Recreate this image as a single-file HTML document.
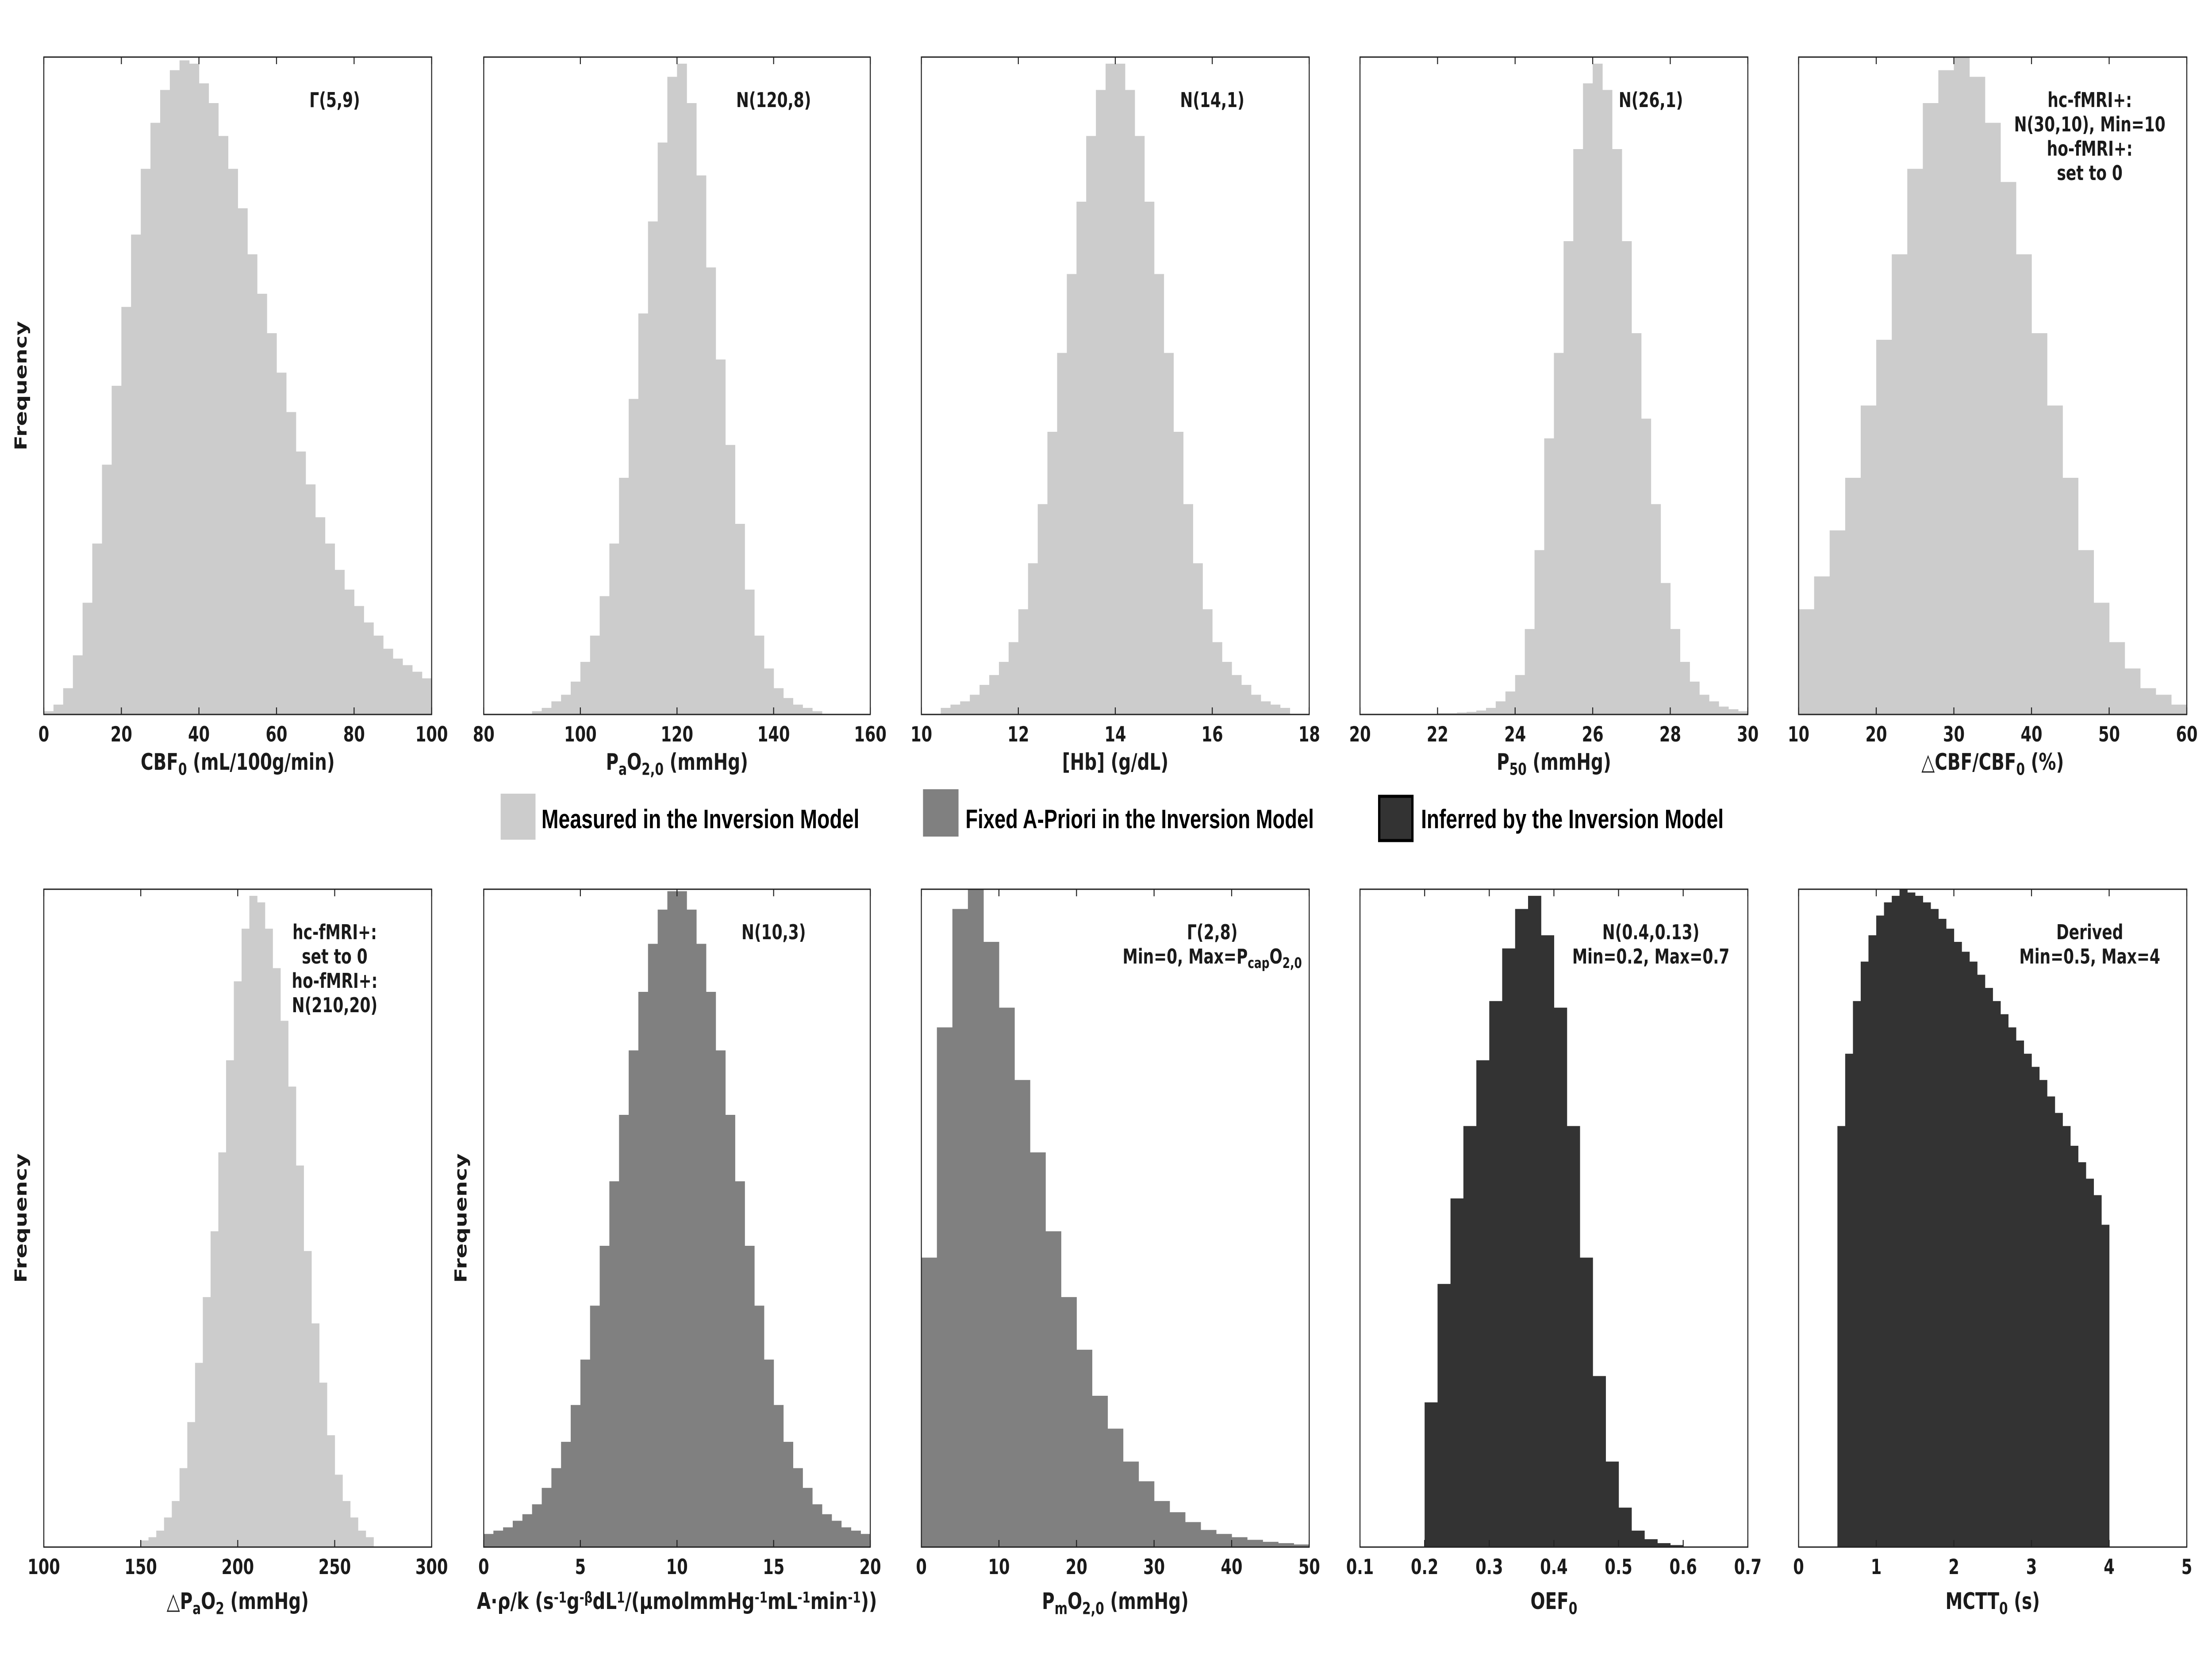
<!DOCTYPE html>
<html><head><meta charset="utf-8"><title>Histograms</title>
<style>
html,body{margin:0;padding:0;background:#fff;width:100%;height:100%;overflow:hidden;}
svg{display:block;width:100vw;height:100vh;}
text{font-family:"DejaVu Sans","Liberation Sans",sans-serif;font-weight:bold;fill:#1a1a1a;}
.leg{font-family:"Liberation Sans",sans-serif;font-weight:bold;font-size:60px;fill:#000;}
</style></head>
<body>
<svg id="fig" viewBox="0 0 6667 3750" preserveAspectRatio="none" xmlns="http://www.w3.org/2000/svg">
<g id="legend">
 <g>
  <rect x="1509" y="1794" width="105" height="104" fill="#cccccc"/>
  <text class="leg" x="1632" y="1872" textLength="958" lengthAdjust="spacingAndGlyphs">Measured in the Inversion Model</text>
 </g>
 <g>
  <rect x="2782" y="1784" width="107" height="107" fill="#808080"/>
  <text class="leg" x="2910" y="1872" textLength="1050" lengthAdjust="spacingAndGlyphs">Fixed A-Priori in the Inversion Model</text>
 </g>
 <g>
  <rect x="4157" y="1800" width="100" height="100" fill="#333333" stroke="#000" stroke-width="7"/>
  <text class="leg" x="4283" y="1872" textLength="912" lengthAdjust="spacingAndGlyphs">Inferred by the Inversion Model</text>
 </g>
</g>
</svg>
<script>
// ---- data arrays (relative frequency, fraction of peak) ----
const cbfValues = [0.005,0.015,0.04,0.09,0.17,0.26,0.38,0.50,0.62,0.73,0.83,0.90,0.95,0.98,0.995,0.99,0.96,0.93,0.88,0.83,0.77,0.70,0.64,0.58,0.52,0.46,0.40,0.35,0.30,0.26,0.22,0.19,0.165,0.14,0.12,0.10,0.085,0.075,0.065,0.055];
const pao2Values = [0.005,0.01,0.02,0.03,0.05,0.08,0.12,0.18,0.26,0.36,0.48,0.61,0.75,0.87,0.97,0.99,0.93,0.82,0.68,0.54,0.41,0.29,0.19,0.12,0.07,0.04,0.025,0.015,0.01,0.005];
const hbValues = [0.01,0.015,0.02,0.03,0.045,0.06,0.08,0.11,0.16,0.23,0.32,0.43,0.55,0.67,0.78,0.88,0.95,0.99,0.99,0.95,0.88,0.78,0.67,0.55,0.43,0.32,0.23,0.16,0.11,0.08,0.06,0.045,0.03,0.02,0.015,0.01];
const p50Values = [0.002,0.002,0.003,0.004,0.006,0.01,0.02,0.035,0.06,0.13,0.25,0.42,0.55,0.72,0.86,0.96,0.99,0.95,0.86,0.72,0.58,0.45,0.32,0.2,0.13,0.08,0.05,0.03,0.02,0.012,0.008,0.005];
const dcbfValues = [0.16,0.21,0.28,0.36,0.47,0.57,0.70,0.83,0.93,0.98,1.0,0.97,0.90,0.81,0.70,0.58,0.47,0.36,0.25,0.17,0.11,0.07,0.04,0.03,0.015];
const dpao2Values = [0.01,0.015,0.025,0.045,0.07,0.12,0.19,0.28,0.38,0.48,0.6,0.74,0.86,0.94,0.99,0.98,0.94,0.88,0.8,0.7,0.58,0.45,0.34,0.25,0.17,0.11,0.07,0.045,0.025,0.015];
const arkValues = [0.02,0.025,0.03,0.04,0.05,0.065,0.09,0.12,0.16,0.216,0.285,0.367,0.458,0.556,0.657,0.755,0.844,0.917,0.969,0.997,0.997,0.969,0.917,0.844,0.755,0.657,0.556,0.458,0.367,0.285,0.216,0.16,0.12,0.09,0.065,0.05,0.04,0.03,0.025,0.02];
const pmo2Values = [0.44,0.79,0.97,1.0,0.92,0.82,0.71,0.60,0.48,0.38,0.30,0.23,0.18,0.13,0.10,0.07,0.053,0.038,0.026,0.02,0.015,0.011,0.008,0.006,0.004];
const oefValues = [0.22,0.4,0.53,0.64,0.74,0.83,0.91,0.97,0.99,0.93,0.82,0.64,0.44,0.26,0.13,0.06,0.025,0.012,0.006,0.003,0.001];
const mcttValues = [0.64,0.75,0.83,0.89,0.93,0.96,0.98,0.99,1.0,0.995,0.99,0.98,0.97,0.955,0.94,0.92,0.905,0.89,0.87,0.85,0.83,0.81,0.79,0.77,0.75,0.73,0.71,0.685,0.66,0.64,0.61,0.585,0.56,0.535,0.49];

// ---- tick labels ----
const cbfTicks = [0,20,40,60,80,100];
const pao2Ticks = [80,100,120,140,160];
const hbTicks = [10,12,14,16,18];
const p50Ticks = [20,22,24,26,28,30];
const dcbfTicks = [10,20,30,40,50,60];
const dpao2Ticks = [100,150,200,250,300];
const arkTicks = [0,5,10,15,20];
const pmo2Ticks = [0,10,20,30,40,50];
const oefTicks = [0.1,0.2,0.3,0.4,0.5,0.6,0.7];
const mcttTicks = [0,1,2,3,4,5];

const LIGHT="#cccccc", MID="#808080", DARK="#333333";
const NS="http://www.w3.org/2000/svg";
const svg=document.getElementById('fig');

const panels=[
 {name:'cbf',x0:132,x1:1301,y0:129,y1:1615,xmin:0,xmax:100,binStart:0,binStep:2.5,vals:cbfValues,ticks:cbfTicks,color:LIGHT,freq:true,
  label:[['CBF',0],['0',1],[' (mL/100g/min)',0]],ann:[[['Γ(5,9)',0]]]},
 {name:'pao2',x0:1458,x1:2623,y0:129,y1:1615,xmin:80,xmax:160,binStart:90,binStep:2,vals:pao2Values,ticks:pao2Ticks,color:LIGHT,
  label:[['P',0],['a',1],['O',0],['2,0',1],[' (mmHg)',0]],ann:[[['N(120,8)',0]]]},
 {name:'hb',x0:2777,x1:3946,y0:129,y1:1615,xmin:10,xmax:18,binStart:10.4,binStep:0.2,vals:hbValues,ticks:hbTicks,color:LIGHT,
  label:[['[Hb] (g/dL)',0]],ann:[[['N(14,1)',0]]]},
 {name:'p50',x0:4099,x1:5268,y0:129,y1:1615,xmin:20,xmax:30,binStart:22,binStep:0.25,vals:p50Values,ticks:p50Ticks,color:LIGHT,
  label:[['P',0],['50',1],[' (mmHg)',0]],ann:[[['N(26,1)',0]]]},
 {name:'dcbf',x0:5421,x1:6591,y0:129,y1:1615,xmin:10,xmax:60,binStart:10,binStep:2,vals:dcbfValues,ticks:dcbfTicks,color:LIGHT,
  label:[['△CBF/CBF',0],['0',1],[' (%)',0]],ann:[[['hc-fMRI+:',0]],[['N(30,10), Min=10',0]],[['ho-fMRI+:',0]],[['set to 0',0]]]},
 {name:'dpao2',x0:132,x1:1301,y0:2010,y1:3497,xmin:100,xmax:300,binStart:150,binStep:4,vals:dpao2Values,ticks:dpao2Ticks,color:LIGHT,freq:true,
  label:[['△P',0],['a',1],['O',0],['2',1],[' (mmHg)',0]],ann:[[['hc-fMRI+:',0]],[['set to 0',0]],[['ho-fMRI+:',0]],[['N(210,20)',0]]]},
 {name:'ark',x0:1458,x1:2623,y0:2010,y1:3497,xmin:0,xmax:20,binStart:0,binStep:0.5,vals:arkValues,ticks:arkTicks,color:MID,freq:true,
  label:[['A·ρ/k (s',0],['-1',2],['g',0],['-β',2],['dL',0],['1',2],['/(μmolmmHg',0],['-1',2],['mL',0],['-1',2],['min',0],['-1',2],['))',0]],labelLen:1206,ann:[[['N(10,3)',0]]]},
 {name:'pmo2',x0:2777,x1:3946,y0:2010,y1:3497,xmin:0,xmax:50,binStart:0,binStep:2,vals:pmo2Values,ticks:pmo2Ticks,color:MID,
  label:[['P',0],['m',1],['O',0],['2,0',1],[' (mmHg)',0]],ann:[[['Γ(2,8)',0]],[['Min=0, Max=P',0],['cap',1],['O',0],['2,0',1]]]},
 {name:'oef',x0:4099,x1:5268,y0:2010,y1:3497,xmin:0.1,xmax:0.7,binStart:0.2,binStep:0.02,vals:oefValues,ticks:oefTicks,color:DARK,
  label:[['OEF',0],['0',1]],ann:[[['N(0.4,0.13)',0]],[['Min=0.2, Max=0.7',0]]]},
 {name:'mctt',x0:5421,x1:6591,y0:2010,y1:3497,xmin:0,xmax:5,binStart:0.5,binStep:0.1,vals:mcttValues,ticks:mcttTicks,color:DARK,
  label:[['MCTT',0],['0',1],[' (s)',0]],ann:[[['Derived',0]],[['Min=0.5, Max=4',0]]]}
];

function mk(tag,attrs,parent){const e=document.createElementNS(NS,tag);for(const k in attrs)e.setAttribute(k,attrs[k]);(parent||svg).appendChild(e);return e;}
function rich(t,parts,size){
 parts.forEach(p=>{const ts=document.createElementNS(NS,'tspan');ts.textContent=p[0];
  if(p[1]===1){ts.setAttribute('baseline-shift','-30%');ts.setAttribute('font-size',size*0.72);}
  else if(p[1]===2){ts.setAttribute('baseline-shift','45%');ts.setAttribute('font-size',size*0.65);}
  t.appendChild(ts);});
}

panels.forEach(p=>{
 const g=mk('g',{});
 
 
 const xs=v=>p.x0+(v-p.xmin)/(p.xmax-p.xmin)*(p.x1-p.x0);
 const ys=v=>p.y1-v*(p.y1-p.y0);
 p.vals.forEach((v,i)=>{
  const a=p.binStart+i*p.binStep, b=a+p.binStep;
  const xa=xs(a), xb=Math.min(xs(b),p.x1);
  const r=mk('rect',{x:xa.toFixed(1),y:ys(v).toFixed(1),width:Math.max(0,xb-xa+0.8).toFixed(1),height:(p.y1-ys(v)).toFixed(1),fill:p.color},g);
  
  
 });
 const fr=mk('rect',{x:p.x0,y:p.y0,width:p.x1-p.x0,height:p.y1-p.y0,fill:'none',stroke:'#222','stroke-width':3},g);
 
 
 p.ticks.forEach(t=>{
  const x=xs(t);
  mk('line',{x1:x,x2:x,y1:p.y0,y2:p.y0+16,stroke:'#222','stroke-width':3},g);
  mk('line',{x1:x,x2:x,y1:p.y1,y2:p.y1-16,stroke:'#222','stroke-width':3},g);
  const tl=mk('text',{x:x,y:p.y1+61,'font-size':47,'text-anchor':'middle'},g);
  tl.textContent=String(t);
  
  
 });
 const cx=(p.x0+p.x1)/2;
 const ly=p.y1+(p.y0<1000?125:140);
 const xl=mk('text',{x:cx,y:ly,'font-size':52,'text-anchor':'middle'},g);
 if(p.labelLen){xl.setAttribute('textLength',p.labelLen);xl.setAttribute('lengthAdjust','spacingAndGlyphs');}
 rich(xl,p.label,52);
 
 
 if(p.freq){
  const fx=p.x0-52, fy=(p.y0+p.y1)/2;
  const yl=mk('text',{x:fx,y:fy,'font-size':50,'text-anchor':'middle',transform:'rotate(-90 '+fx+' '+fy+')'},g);
  yl.textContent='Frequency';
  
  
 }
 const ax=p.x0+0.75*(p.x1-p.x0);
 p.ann.forEach((line,i)=>{
  const at=mk('text',{x:ax,y:p.y0+113+i*55,'font-size':46,'text-anchor':'middle'},g);
  rich(at,line,46);
  
  
 });
});
</script>
</body></html>
